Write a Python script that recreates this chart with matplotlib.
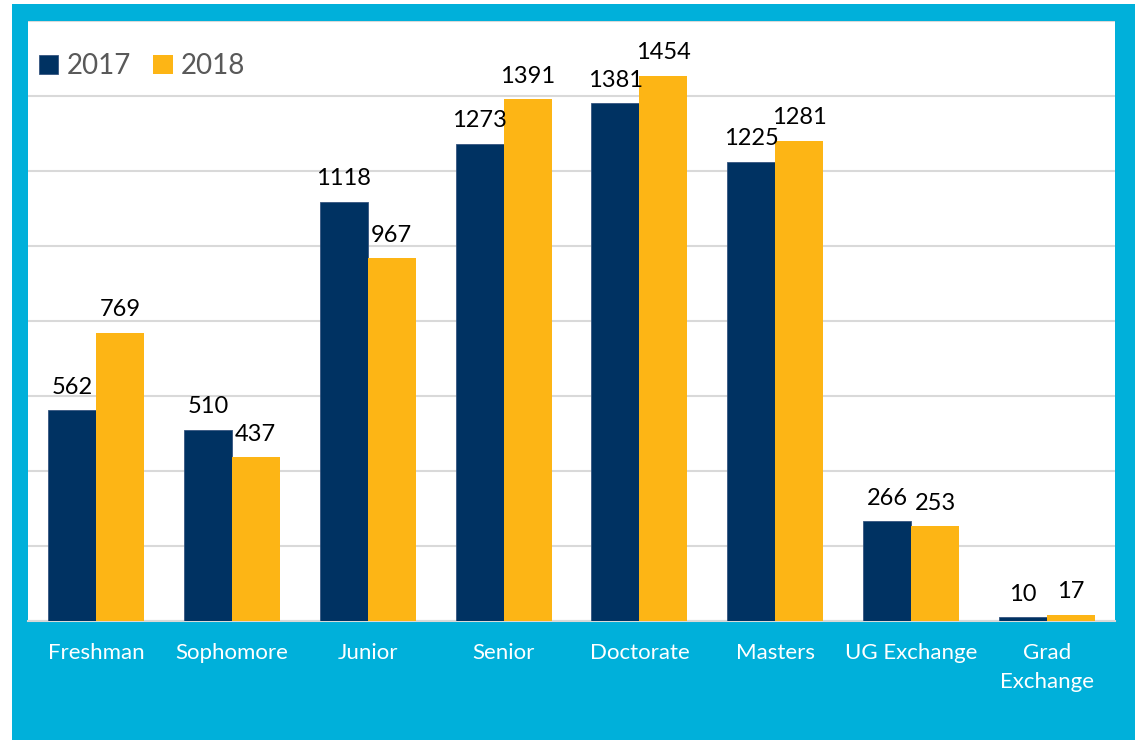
import matplotlib.pyplot as plt
from matplotlib.patches import Rectangle
import numpy as np

categories = ["Freshman", "Sophomore", "Junior", "Senior", "Doctorate",
              "Masters", "UG Exchange", "Grad\nExchange"]
values_2017 = [562, 510, 1118, 1273, 1381, 1225, 266, 10]
values_2018 = [769, 437, 967, 1391, 1454, 1281, 253, 17]

navy = "#003262"
gold = "#FDB515"
cyan = "#00B0DA"

plt.rcParams['font.family'] = ['Lato', 'DejaVu Sans']

fig = plt.figure(figsize=(11.38, 7.4), dpi=100)
fig.patch.set_facecolor("white")
# cyan frame behind the plot
frame = Rectangle((12 / 1138, 0), 1123 / 1138, 736 / 740,
                  transform=fig.transFigure, facecolor=cyan,
                  edgecolor="none", zorder=-10)
fig.add_artist(frame)

ax = fig.add_axes([28 / 1138, 119 / 740, 1087 / 1138, 600 / 740])
ax.set_zorder(1)
ax.set_facecolor("white")

x = np.arange(len(categories))
w = 0.353
b1 = ax.bar(x - w / 2, values_2017, w, color=navy, edgecolor="#35557f",
            linewidth=0.6, label="2017", zorder=3)
b2 = ax.bar(x + w / 2, values_2018, w, color=gold, label="2018", zorder=3)

for bars in (b1, b2):
    for rect in bars:
        ax.annotate(f"{int(rect.get_height())}",
                    (rect.get_x() + rect.get_width() / 2, rect.get_height()),
                    xytext=(0, 9), textcoords="offset points",
                    ha="center", va="bottom", fontsize=17, color="black")

ax.set_xlim(-0.5, len(categories) - 0.5)
ax.set_ylim(0, 1600)
ax.set_yticks(np.arange(0, 1601, 200))
ax.yaxis.grid(True, color="#D9D9D9", linewidth=1.5, zorder=0)
ax.tick_params(axis="y", left=False, labelleft=False)
ax.tick_params(axis="x", bottom=False, pad=12, labelsize=16, labelcolor="white")
ax.set_xticks(x)
ax.set_xticklabels(categories, linespacing=1.6)

for s in ("top", "right", "left"):
    ax.spines[s].set_visible(False)
ax.spines["bottom"].set_color("#D9D9D9")
ax.spines["bottom"].set_linewidth(1.5)

leg = ax.legend(loc="upper left", ncol=2, frameon=False, fontsize=20,
                handlelength=0.7, handleheight=0.7, handletextpad=0.3,
                columnspacing=0.8, bbox_to_anchor=(-0.013, 0.988),
                labelcolor="#595959")

fig.savefig("out.png", dpi=100, facecolor=fig.get_facecolor())
